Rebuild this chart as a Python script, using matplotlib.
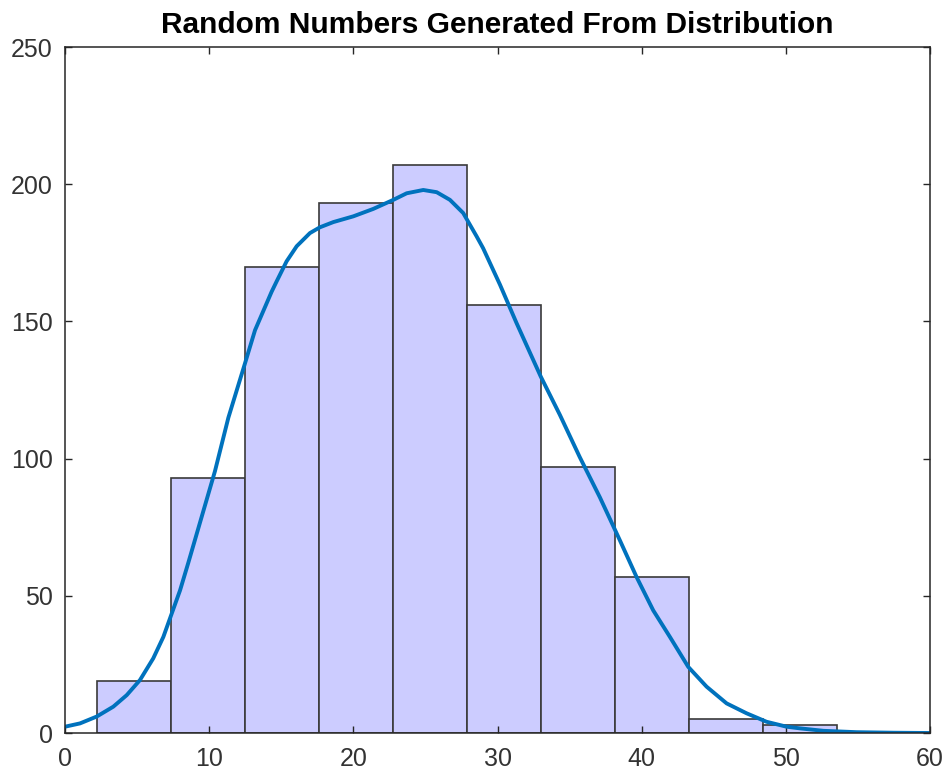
import matplotlib
matplotlib.use("Agg")
import matplotlib.pyplot as plt
import numpy as np

# Histogram bins and counts
bin_start = 2.2
bin_width = 5.135
counts = [19, 93, 170, 193, 207, 156, 97, 57, 5, 3]

# Fitted density curve, scaled to counts
curve_x = [0.0, 1.04, 2.2, 3.35, 4.28, 5.2, 6.12, 6.82, 7.4, 7.98, 8.55,
           9.48, 10.4, 11.33, 12.46, 13.18, 14.33, 14.68, 15.37, 16.07, 16.99,
           17.68, 18.61, 20.0, 21.38, 22.77, 23.7, 24.85, 25.78, 26.7, 27.62,
           28.55, 29.0, 30.17, 31.32, 33.0, 34.33, 35.7, 37.1, 38.49, 39.65,
           40.8, 41.96, 43.23, 44.5, 45.89, 47.27, 48.66, 50.05, 50.97, 52.6,
           54.9, 57.5, 60.0]
curve_y = [2.3, 3.5, 6.0, 9.6, 13.8, 19.3, 27.2, 35.0, 43.5, 52.0, 62.0,
           78.8, 95.4, 114.9, 134.3, 146.8, 160.8, 164.6, 171.9, 177.4, 182.2,
           184.3, 186.2, 188.3, 191.0, 194.3, 196.7, 197.9, 197.1, 194.3, 189.5,
           181.0, 176.7, 163.4, 149.4, 129.9, 115.9, 100.6, 85.9, 70.2, 56.8,
           44.7, 35.0, 24.1, 16.9, 10.8, 7.2, 4.1, 2.3, 1.7, 0.8,
           0.3, 0.1, 0.0]

x_ticks = [0, 10, 20, 30, 40, 50, 60]
y_ticks = [0, 50, 100, 150, 200, 250]

plt.rcParams['font.family'] = ['Liberation Sans', 'DejaVu Sans']

fig = plt.figure(figsize=(9.49, 7.76), dpi=100)
ax = fig.add_axes([0.0685, 0.0554, 0.9115, 0.884])

edges = bin_start + bin_width * np.arange(len(counts) + 1)
ax.bar(edges[:-1], counts, width=bin_width, align='edge',
       facecolor='#CCCCFF', edgecolor='#3a3a3a', linewidth=1.2)
ax.plot(curve_x, curve_y, color='#0072BD', linewidth=2.8,
        solid_capstyle='round', solid_joinstyle='round')

ax.set_xlim(0, 60)
ax.set_ylim(0, 250)
ax.set_xticks(x_ticks)
ax.set_yticks(y_ticks)
ax.tick_params(direction='in', length=5, width=1, color='#262626',
               labelcolor='#333333', labelsize=18, top=True, right=True)
ax.tick_params(axis='y', pad=9)
ax.tick_params(axis='x', pad=10)
for s in ax.spines.values():
    s.set_color('#262626')
    s.set_linewidth(1.1)

ax.set_title('Random Numbers Generated From Distribution',
             fontsize=21.5, fontweight='bold', pad=10)

fig.savefig('out.png', dpi=100)
